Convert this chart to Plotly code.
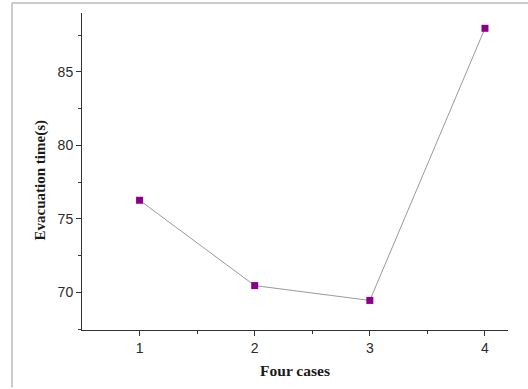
import plotly.graph_objects as go

cases = [1, 2, 3, 4]
evac_time = [76.27, 70.47, 69.46, 87.96]
x_ticks = [1, 2, 3, 4]
y_ticks = [70, 75, 80, 85]

W, H = 528, 389
L, R, T, B = 82, 20, 13, 55
pw, ph = W - L - R, H - T - B

fig = go.Figure()
fig.add_trace(go.Scatter(
    x=cases, y=evac_time, mode="lines+markers",
    line=dict(color="#9a9a9a", width=1),
    marker=dict(symbol="square", size=7, color="#8b008b"),
    showlegend=False,
))

axis_common = dict(
    showgrid=False, zeroline=False, showline=True, linecolor="#333333", linewidth=1,
    ticks="outside", ticklen=5, tickcolor="#333333", tickwidth=1,
    tickfont=dict(family="Liberation Sans, Arial", size=14, color="#2a2a2a"),
    minor=dict(ticks="outside", ticklen=3, tickcolor="#333333", tickwidth=1),
)

fig.update_xaxes(
    range=[0.5, 4.2], tickvals=x_ticks, **axis_common,
    title=dict(text="<b>Four cases</b>", font=dict(family="Liberation Serif, Times New Roman", size=15.5, color="#1a1a1a"), standoff=10),
)
fig.update_yaxes(range=[67.45, 89.0], tickvals=y_ticks, **axis_common)
fig.update_xaxes(minor=dict(tickvals=[1.5, 2.5, 3.5]))
fig.update_yaxes(minor=dict(tickvals=[67.5, 72.5, 77.5, 82.5, 87.5]))

fig.add_annotation(
    text="<b>Evacuation time(s)</b>", xref="paper", yref="paper",
    x=(40 - L) / pw, y=(H - B - 182.5) / ph, xanchor="center", yanchor="middle",
    textangle=-90, showarrow=False,
    font=dict(family="Liberation Serif, Times New Roman", size=15, color="#1a1a1a"),
)

bx = (12 - L) / pw
by = (H - B - 3) / ph
fig.add_shape(type="line", xref="paper", yref="paper", x0=bx, x1=bx, y0=by, y1=-B / ph - 0.01,
              line=dict(color="#bbbbbb", width=1.5))
fig.add_shape(type="line", xref="paper", yref="paper", x0=bx, x1=(W - L) / pw + 0.01, y0=by, y1=by,
              line=dict(color="#bbbbbb", width=1.5))

fig.update_layout(
    width=W, height=H, margin=dict(l=L, r=R, t=T, b=B),
    paper_bgcolor="white", plot_bgcolor="white",
)
fig.write_html("out.html")
